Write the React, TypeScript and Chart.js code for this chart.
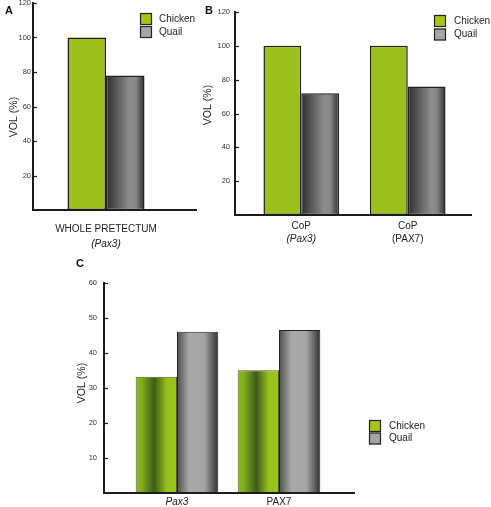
import React, { useEffect, useRef } from 'react';
import { Chart, registerables } from 'chart.js';

Chart.register(...registerables);

const FONT = "'Liberation Sans', Arial, sans-serif";
Chart.defaults.font.family = FONT;
Chart.defaults.color = '#222';

// ---------- data ----------
const seriesNames = ['Chicken', 'Quail'];
const yTitle = 'VOL (%)';

// Panel A
const categoriesA = ['WHOLE PRETECTUM'];
const subLabelsA = ['(Pax3)'];
const chickenA = [100];
const quailA = [78];
const yTicksA = [20, 40, 60, 80, 100, 120];

// Panel B
const categoriesB = ['CoP', 'CoP'];
const subLabelsB = ['(Pax3)', '(PAX7)'];
const chickenB = [100, 100];
const quailB = [72, 76];
const yTicksB = [20, 40, 60, 80, 100, 120];

// Panel C
const categoriesC = ['Pax3', 'PAX7'];
const chickenC = [33.2, 35.1];
const quailC = [46.1, 46.6];
const yTicksC = [10, 20, 30, 40, 50, 60];

// ---------- styles ----------
const greenSolid = '#9dbf1b';
const greenLegend = '#a6c412';
const greyLegend = '#a5a5a5';
const quailGradAB: [number, string][] = [[0, '#2f2f2f'], [0.62, '#8e8e8e'], [0.78, '#858585'], [1, '#2a2a2a']];
const chickenGradC: [number, string][] = [[0, '#8cbb1e'], [0.15, '#82ac1f'], [0.45, '#3d5a19'], [0.75, '#96c11c'], [1, '#9cc41b']];
const quailGradC: [number, string][] = [[0, '#4e4e4e'], [0.3, '#a9a9a9'], [0.66, '#a5a5a5'], [1, '#303030']];

const decorPlugin = {
  id: 'decor',
  beforeDatasetsDraw(chart: any) {
    const ctx = chart.ctx;
    chart.data.datasets.forEach((ds: any, i: number) => {
      const stops = ds.gradientStops;
      if (!stops) return;
      const meta = chart.getDatasetMeta(i);
      meta.data.forEach((el: any) => {
        const x = el.x;
        const w = el.width;
        const g = ctx.createLinearGradient(x - w / 2, 0, x + w / 2, 0);
        stops.forEach(([o, c]: [number, string]) => g.addColorStop(o, c));
        el.options = Object.assign({}, el.options, { backgroundColor: g });
      });
    });
  },
  afterDraw(chart: any, _args: any, opts: any) {
    const ctx = chart.ctx;
    const y = chart.scales.y;
    const area = chart.chartArea;
    const axisX = area.left - opts.axisOffset;
    const y0 = y.getPixelForValue(0);
    const yTop = y.getPixelForValue(y.max);
    ctx.save();
    ctx.strokeStyle = '#1c1c1c';
    ctx.lineWidth = 2;
    ctx.lineCap = 'square';
    ctx.beginPath();
    ctx.moveTo(axisX, yTop);
    ctx.lineTo(axisX, y0);
    ctx.lineTo(area.right + opts.baseExtend, y0);
    ctx.stroke();
    ctx.lineWidth = 1.2;
    ctx.lineCap = 'butt';
    y.ticks.forEach((t: any) => {
      const py = Math.round(y.getPixelForValue(t.value)) + 0.5;
      ctx.beginPath();
      ctx.moveTo(axisX, py);
      ctx.lineTo(axisX + 4, py);
      ctx.stroke();
    });
    // panel letter
    ctx.fillStyle = '#111';
    ctx.textBaseline = 'middle';
    ctx.textAlign = 'left';
    ctx.font = `bold 11px ${FONT}`;
    ctx.fillText(opts.letter, opts.letterX, opts.letterY);
    // y title
    ctx.save();
    ctx.translate(opts.titleX, opts.titleY);
    ctx.rotate(-Math.PI / 2);
    ctx.textAlign = 'center';
    ctx.font = `10.5px ${FONT}`;
    ctx.fillStyle = '#222';
    ctx.fillText(opts.title, 0, 0);
    ctx.restore();
    // legend
    ctx.font = `10px ${FONT}`;
    chart.data.datasets.forEach((ds: any, i: number) => {
      const by = opts.legendY + i * opts.legendStep;
      ctx.fillStyle = ds.legendColor;
      ctx.fillRect(opts.legendX, by, opts.legendBox, opts.legendBox);
      ctx.strokeStyle = '#222';
      ctx.lineWidth = 1.2;
      ctx.strokeRect(opts.legendX + 0.5, by + 0.5, opts.legendBox - 1, opts.legendBox - 1);
      ctx.fillStyle = '#222';
      ctx.textAlign = 'left';
      ctx.fillText(ds.label, opts.legendTextX, by + opts.legendBox / 2);
    });
    ctx.restore();
  },
};

type PanelDef = {
  categories: string[];
  subLabels?: string[];
  italicMain: boolean[];
  italicSub?: boolean[];
  chicken: number[];
  quail: number[];
  yTicks: number[];
  padding: { left: number; right: number; top: number; bottom: number };
  yWidth: number;
  tickPadding: number;
  xHeight: number;
  xPadding: number;
  x2Height?: number;
  catPct: number;
  panelC: boolean;
  decor: any;
};

function buildConfig(p: PanelDef): any {
  const fixY = (s: any) => {
    s.width = p.yWidth;
    s.paddingTop = 0;
    s.paddingBottom = 0;
  };
  const scales: any = {
    y: {
      min: 0,
      max: p.yTicks[p.yTicks.length - 1],
      afterBuildTicks: (s: any) => {
        s.ticks = p.yTicks.map((v) => ({ value: v }));
      },
      afterFit: fixY,
      grid: { display: false, drawTicks: false },
      border: { display: false },
      ticks: { padding: p.tickPadding, font: { size: 7.5 }, color: '#333' },
    },
    x: {
      type: 'category',
      offset: true,
      grid: { display: false, drawTicks: false, offset: true },
      border: { display: false },
      ticks: {
        padding: p.xPadding,
        autoSkip: false,
        maxRotation: 0,
        minRotation: 0,
        color: '#222',
        font: (c: any) => ({ size: 10, style: p.italicMain[c.index] ? 'italic' : 'normal' }),
      },
      afterFit: (s: any) => {
        s.height = p.xHeight;
        s.paddingLeft = 0;
        s.paddingRight = 0;
      },
    },
  };
  if (p.subLabels) {
    scales.x2 = {
      type: 'category',
      axis: 'x',
      position: 'bottom',
      weight: 1,
      labels: p.subLabels,
      offset: true,
      grid: { display: false, drawTicks: false, offset: true },
      border: { display: false },
      ticks: {
        padding: 0,
        autoSkip: false,
        maxRotation: 0,
        minRotation: 0,
        color: '#222',
        font: (c: any) => ({ size: 10, style: p.italicSub && p.italicSub[c.index] ? 'italic' : 'normal' }),
      },
      afterFit: (s: any) => {
        s.height = p.x2Height || 20;
        s.paddingLeft = 0;
        s.paddingRight = 0;
      },
    };
  }
  const common = { categoryPercentage: p.catPct, barPercentage: 1, borderSkipped: false };
  return {
    type: 'bar',
    data: {
      labels: p.categories,
      datasets: [
        {
          label: seriesNames[0],
          data: p.chicken,
          backgroundColor: greenSolid,
          legendColor: greenLegend,
          gradientStops: p.panelC ? chickenGradC : undefined,
          borderColor: p.panelC ? '#4d5e2c' : '#1e1e1e',
          borderWidth: p.panelC ? 1 : 1.5,
          ...common,
        },
        {
          label: seriesNames[1],
          data: p.quail,
          backgroundColor: '#7a7a7a',
          legendColor: greyLegend,
          gradientStops: p.panelC ? quailGradC : quailGradAB,
          borderColor: '#222',
          borderWidth: p.panelC ? 1 : 1.5,
          ...common,
        },
      ],
    },
    options: {
      animation: false,
      responsive: false,
      devicePixelRatio: 1,
      layout: { padding: p.padding },
      scales,
      plugins: {
        legend: { display: false },
        title: { display: false },
        tooltip: { enabled: false },
        decor: { title: yTitle, ...p.decor },
      },
    },
    plugins: [decorPlugin],
  };
}

const panelA: PanelDef = {
  categories: categoriesA,
  subLabels: subLabelsA,
  italicMain: [false],
  italicSub: [true],
  chicken: chickenA,
  quail: quailA,
  yTicks: yTicksA,
  padding: { left: 0, right: 327, top: 3, bottom: 249 },
  yWidth: 48,
  tickPadding: 17,
  xHeight: 28,
  xPadding: 13,
  x2Height: 20,
  catPct: 0.664,
  panelC: false,
  decor: {
    axisOffset: 15, baseExtend: 32,
    letter: 'A', letterX: 5, letterY: 10.5,
    titleX: 14.5, titleY: 117,
    legendX: 140, legendY: 13, legendBox: 12, legendStep: 13, legendTextX: 159,
  },
};

const panelB: PanelDef = {
  categories: categoriesB,
  subLabels: subLabelsB,
  italicMain: [false, false],
  italicSub: [true, false],
  chicken: chickenB,
  quail: quailB,
  yTicks: yTicksB,
  padding: { left: 200, right: 30, top: 12, bottom: 254 },
  yWidth: 48,
  tickPadding: 18,
  xHeight: 18,
  xPadding: 5,
  x2Height: 20,
  catPct: 0.71,
  panelC: false,
  decor: {
    axisOffset: 13, baseExtend: 10,
    letter: 'B', letterX: 205, letterY: 11,
    titleX: 208, titleY: 105,
    legendX: 434, legendY: 15, legendBox: 12, legendStep: 13.5, legendTextX: 454,
  },
};

const panelC: PanelDef = {
  categories: categoriesC,
  italicMain: [true, false],
  chicken: chickenC,
  quail: quailC,
  yTicks: yTicksC,
  padding: { left: 78, right: 161, top: 283, bottom: 0 },
  yWidth: 48,
  tickPadding: 29,
  xHeight: 14,
  xPadding: 3,
  catPct: 0.81,
  panelC: true,
  decor: {
    axisOffset: 22, baseExtend: 24,
    letter: 'C', letterX: 76, letterY: 264,
    titleX: 82, titleY: 383,
    legendX: 369, legendY: 420, legendBox: 12, legendStep: 12.5, legendTextX: 389,
  },
};

function Panel({ def }: { def: PanelDef }) {
  const ref = useRef<HTMLCanvasElement | null>(null);
  useEffect(() => {
    if (!ref.current) return;
    const chart = new Chart(ref.current, buildConfig(def));
    return () => chart.destroy();
  }, [def]);
  return (
    <canvas
      ref={ref}
      width={491}
      height={507}
      style={{ position: 'absolute', left: 0, top: 0, width: 491, height: 507 }}
    />
  );
}

export default function App() {
  return (
    <div style={{ position: 'fixed', left: 0, top: 0, width: 491, height: 507, background: '#fff', overflow: 'hidden' }}>
      <Panel def={panelA} />
      <Panel def={panelB} />
      <Panel def={panelC} />
    </div>
  );
}
